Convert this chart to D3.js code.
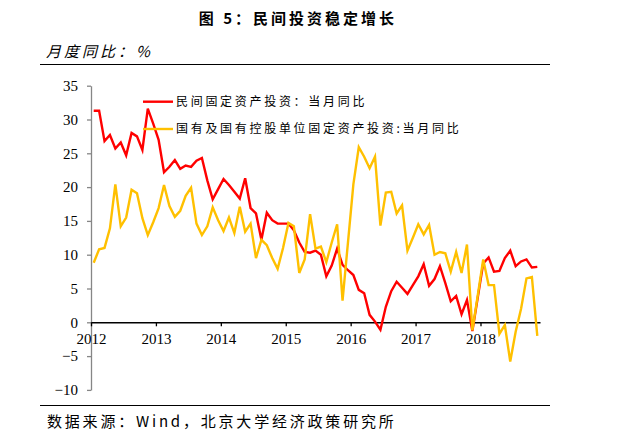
<!DOCTYPE html>
<html><head><meta charset="utf-8">
<script src="https://cdn.jsdelivr.net/npm/d3@7"></script>
<style>body{margin:0;background:#fff} svg{display:block}</style>
</head><body><svg id="c" width="630" height="442"></svg>
<script>
// ---- data ----
const yearLabels = ["2012","2013","2014","2015","2016","2017","2018"];
const yTickValues = [-10,-5,0,5,10,15,20,25,30,35];
const seriesNames = ["民间固定资产投资：当月同比","国有及国有控股单位固定资产投资:当月同比"];
// monthly, Jan 2012 .. Nov 2018
const privateInv = [
 31.3,31.3,26.8,27.7,25.7,26.6,24.7,28.0,27.5,25.5,31.6,29.4,
 27.0,22.2,23.0,24.0,22.7,23.2,23.0,23.9,24.3,21.0,18.2,19.7,
 21.2,20.3,19.3,18.3,21.3,16.9,16.1,12.2,16.2,15.1,14.6,14.6,
 14.6,13.6,11.8,10.4,10.3,10.6,10.0,6.8,8.4,10.9,8.5,7.7,
 7.0,4.8,4.3,1.1,0.1,-1.1,2.3,4.6,6.0,5.1,4.2,5.5,
 6.8,8.6,5.4,6.4,8.3,5.8,3.1,3.9,1.2,3.3,-1.3,3.7,
 8.7,9.6,7.5,7.6,9.5,10.6,8.3,9.0,9.3,8.1,8.2
];
const stateInv = [
 8.8,10.8,11.0,13.9,20.4,14.2,15.5,19.6,19.1,15.4,12.9,14.8,
 16.9,20.3,17.2,15.6,16.5,18.7,19.9,14.6,12.9,14.2,17.0,15.1,
 13.5,15.5,13.2,17.1,13.4,14.6,9.5,12.2,11.4,9.5,7.9,11.0,
 14.7,14.2,7.3,9.3,16.0,10.9,11.2,8.9,11.8,14.5,3.2,11.8,
 20.4,25.9,24.5,22.8,24.5,14.3,19.2,19.3,16.1,17.3,10.6,12.5,
 14.5,13.0,14.4,10.0,10.4,10.2,7.5,10.4,7.3,11.5,-1.2,4.0,
 9.3,5.5,5.5,-1.7,-0.4,-5.8,-1.4,2.0,6.5,6.7,-2.0
];
const colors = ["#FF0000","#FFC000"];

// ---- layout ----
const svg = d3.select("#c");
const x = d3.scaleLinear().domain([-0.5, 82.5]).range([91, 540]);
const y = d3.scaleLinear().domain([-10, 35]).range([389.9, 85.7]);
const serif = "'Liberation Serif','Times New Roman',serif";
const cjk = "'Noto Sans CJK SC','Noto Sans',sans-serif";

// title
svg.append("text").attr("x", 298).attr("y", 24).attr("text-anchor","middle")
  .attr("font-family", cjk).attr("font-weight","bold").attr("font-size",15)
  .attr("letter-spacing",3).attr("fill","#000").text("图 5：民间投资稳定增长");
svg.append("text").attr("x", 46).attr("y", 57)
  .attr("font-family", cjk).attr("font-style","italic").attr("font-size",15)
  .attr("letter-spacing",3).attr("fill","#000").text("月度同比：%");
svg.append("line").attr("x1",40).attr("x2",550).attr("y1",64.5).attr("y2",64.5)
  .attr("stroke","#000").attr("stroke-width",1.2);

// y axis
const yAxis = svg.append("g").attr("transform","translate(91,0)")
  .call(d3.axisLeft(y).tickValues(yTickValues).tickSize(4).tickSizeOuter(0).tickPadding(9));
yAxis.select(".domain").attr("stroke","#868686").attr("stroke-width",1.3);
yAxis.selectAll(".tick line").attr("stroke","#868686").attr("stroke-width",1.3);
yAxis.selectAll(".tick text").attr("font-family",serif).attr("font-size",15).attr("fill","#000");

// x axis at zero
const xAxis = svg.append("g").attr("transform",`translate(0,${y(0)})`)
  .call(d3.axisBottom(x).tickValues(yearLabels.map((d,i)=>i*12-0.5))
    .tickFormat((d,i)=>yearLabels[i]).tickSize(4).tickSizeOuter(0).tickPadding(7));
xAxis.select(".domain").attr("stroke","#000").attr("stroke-width",1.4);
xAxis.selectAll(".tick line").attr("stroke","#000").attr("stroke-width",1.3);
xAxis.selectAll(".tick text").attr("font-family",serif).attr("font-size",15).attr("fill","#000");

// lines
const line = d3.line().x((d,i)=>x(i)).y(d=>y(d));
[privateInv, stateInv].forEach((s,k)=>{
  svg.append("path").datum(s).attr("d",line).attr("fill","none")
    .attr("stroke",colors[k]).attr("stroke-width",2.4).attr("stroke-linejoin","miter");
});

// legend
const legY = [101.7, 129];
seriesNames.forEach((n,k)=>{
  svg.append("line").attr("x1",143).attr("x2",173).attr("y1",legY[k]).attr("y2",legY[k])
    .attr("stroke",colors[k]).attr("stroke-width",2.4);
  svg.append("text").attr("x",176).attr("y",legY[k]).attr("dy","0.35em")
    .attr("font-family",cjk).attr("font-size",12).attr("letter-spacing",2.7)
    .attr("fill","#000").text(n);
});

// source
svg.append("line").attr("x1",40).attr("x2",550).attr("y1",405.5).attr("y2",405.5)
  .attr("stroke","#000").attr("stroke-width",1.2);
svg.append("text").attr("x",47).attr("y",427)
  .attr("font-family",cjk).attr("font-size",15).attr("letter-spacing",2.8)
  .attr("fill","#000").text("数据来源：Wind，北京大学经济政策研究所");
</script></body></html>
